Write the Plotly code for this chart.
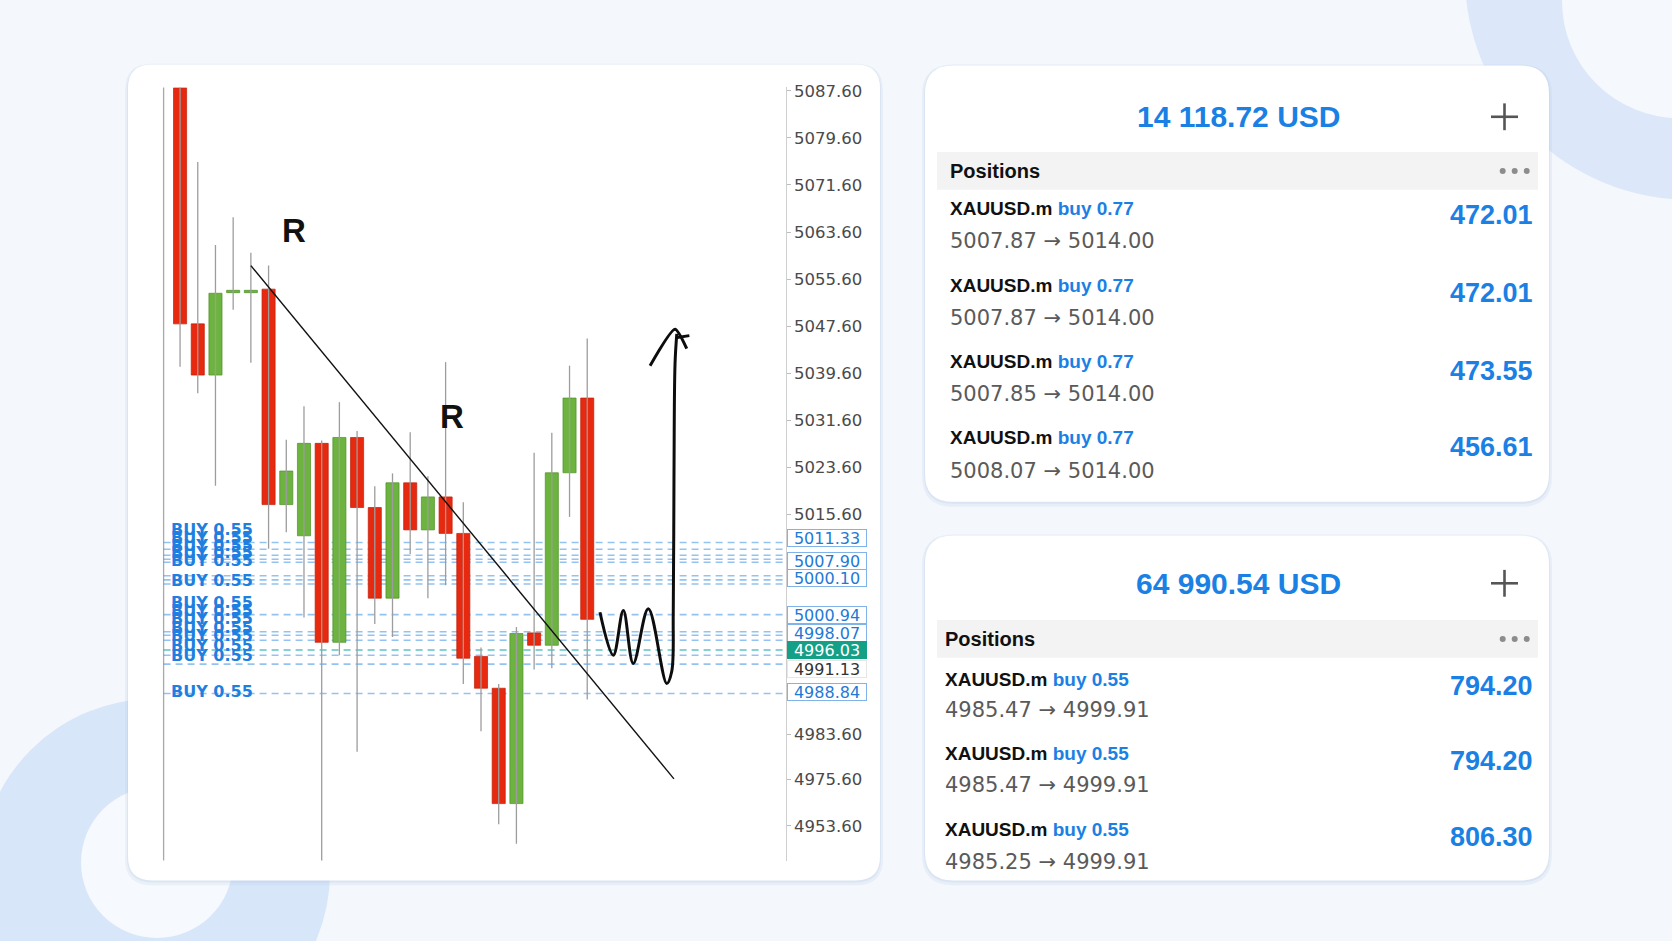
import plotly.graph_objects as go

W, H = 1672, 941

# ---------------- chart data ----------------
candle_idx = list(range(24))
opens  = [5088.1, 5048.0, 5039.3, 5053.3, 5053.3, 5053.9, 5017.3, 5012.0, 5027.7, 4993.9, 5028.7, 5016.8,
          5001.4, 5021.0, 5013.0, 5018.6, 5012.4, 4991.5, 4986.1, 4966.5, 4995.5, 4993.4, 5022.7, 5035.4]
highs  = [5088.2, 5075.5, 5061.4, 5066.1, 5060.1, 5057.9, 5028.3, 5034.0, 5028.2, 5034.7, 5029.8, 5020.4,
          5022.6, 5029.6, 5022.1, 5041.5, 5017.7, 4993.0, 4986.8, 4996.5, 5026.1, 5029.5, 5040.9, 5045.5]
lows   = [5040.7, 5036.2, 5020.5, 5050.4, 5041.4, 5009.8, 5012.6, 4998.1, 4956.5, 4991.7, 4975.3, 4997.0,
          4994.8, 5008.9, 5001.4, 5003.6, 4986.8, 4978.8, 4963.0, 4959.7, 4989.3, 4989.5, 5015.2, 4984.2]
closes = [5048.0, 5039.3, 5053.2, 5053.7, 5053.7, 5017.3, 5023.0, 5027.7, 4993.9, 5028.7, 5016.8, 5001.4,
          5021.0, 5013.0, 5018.6, 5012.4, 4991.2, 4986.1, 4966.5, 4995.4, 4993.4, 5022.7, 5035.4, 4997.8]

tick_pos  = [5087.6, 5079.6, 5071.6, 5063.6, 5055.6, 5047.6, 5039.6, 5031.6, 5023.6, 5015.6,
             4978.3, 4970.6, 4962.7]
tick_text = ["5087.60", "5079.60", "5071.60", "5063.60", "5055.60", "5047.60", "5039.60", "5031.60",
             "5023.60", "5015.60", "4983.60", "4975.60", "4953.60"]

buy_levels = [5010.85, 5009.7, 5008.7, 5008.0, 5007.5, 5005.2, 5004.5, 5003.8,
              4998.6, 4995.7, 4995.1, 4994.25, 4991.7, 4990.2, 4985.2]
buy_label_levels = [5013.1, 5011.7, 5010.3, 5009.15, 5007.75, 5004.4,
                    5000.7, 4999.3, 4997.9, 4996.5, 4995.1, 4993.4, 4991.7, 4985.5]
buy_label = "BUY 0.55"
current_level = 4992.6

tag_prices = [5011.6, 5007.75, 5004.8, 4998.5, 4995.4, 4992.6, 4989.3, 4985.5]
tag_text   = ["5011.33", "5007.90", "5000.10", "5000.94", "4998.07", "4996.03", "4991.13", "4988.84"]
tag_kind   = ["pos", "pos", "pos", "pos", "pos", "current", "plain", "pos"]

trend_x = [4.0, 27.9]
trend_y = [5057.9, 4970.7]

r_x = [6.44, 15.37]
r_y = [5063.85, 5032.3]
r_text = ["R", "R"]

sketch_x = [23.72, 24.47, 25.04, 25.60, 26.45, 27.49, 27.77, 27.86, 27.90, 27.96, 28.06]
sketch_y = [4999.0, 4991.7, 4999.3, 4990.3, 4999.6, 4986.9, 4988.9, 4999.0, 5021.5, 5041.2, 5046.3]
arrow_x = [26.55, 27.96, 28.62, None, 28.09, 28.77]
arrow_y = [5040.9, 5047.1, 5043.8, None, 5045.7, 5046.0]

# ---------------- account panels ----------------
acc1_total = "14 118.72 USD"
acc1_symbol = "XAUUSD.m"
acc1_side = "buy 0.77"
acc1_open = ["5007.87", "5007.87", "5007.85", "5008.07"]
acc1_close = "5014.00"
acc1_profit = ["472.01", "472.01", "473.55", "456.61"]

acc2_total = "64 990.54 USD"
acc2_symbol = "XAUUSD.m"
acc2_side = "buy 0.55"
acc2_open = ["4985.47", "4985.47", "4985.25"]
acc2_close = "4999.91"
acc2_profit = ["794.20", "794.20", "806.30"]

# ---------------- styling ----------------
BG = "#f4f7fc"
BLUE = "#1b80e4"
RED, RED_L = "#e6290f", "#bf1f0a"
GREEN, GREEN_L = "#6db33f", "#4f8f2a"
NARROW = "Liberation Sans, Arial, sans-serif"
REG = "DejaVu Sans, Liberation Sans, sans-serif"


def px(x):
    return x / W


def py(y):
    return 1 - y / H


def rrect(x0, y0, x1, y1, r, color, line=None):
    X0, X1, Yt, Yb = px(x0), px(x1), py(y0), py(y1)
    rx, ry = r / W, r / H
    path = (f"M{X0+rx},{Yt} L{X1-rx},{Yt} Q{X1},{Yt} {X1},{Yt-ry} L{X1},{Yb+ry} "
            f"Q{X1},{Yb} {X1-rx},{Yb} L{X0+rx},{Yb} Q{X0},{Yb} {X0},{Yb+ry} "
            f"L{X0},{Yt-ry} Q{X0},{Yt} {X0+rx},{Yt} Z")
    return dict(type="path", xref="paper", yref="paper", path=path, fillcolor=color,
                line=dict(width=0) if line is None else line, layer="below")


def circle(cx, cy, r, color):
    return dict(type="circle", xref="paper", yref="paper", x0=px(cx - r), x1=px(cx + r),
                y0=py(cy + r), y1=py(cy - r), fillcolor=color, line=dict(width=0), layer="below")


shapes = []
# background decorations
shapes.append(circle(1690, -30, 225, "#dce8f9"))
shapes.append(circle(1680, -5, 118, "#f5f8fd"))
shapes.append(circle(155, 872, 175, "#d8e6fa"))
shapes.append(circle(157, 862, 76, "#f6f9fd"))

cards = [(128, 59, 880, 880, 24), (925, 60, 1549, 499, 28), (925, 533, 1549, 880, 28)]
for (a, b, c, d, r) in cards:
    shapes.append(rrect(a - 3, b - 1, c + 3, d + 5, r + 3, "rgba(170,190,225,0.16)"))
    shapes.append(rrect(a - 1, b, c + 1, d + 2, r + 1, "rgba(170,190,225,0.20)"))
    shapes.append(rrect(a, b, c, d, r, "#ffffff"))

# "Positions" bands
for (y0, y1) in [(147, 185), (618, 656)]:
    shapes.append(dict(type="rect", xref="paper", yref="paper", x0=px(937), x1=px(1538),
                       y0=py(y1), y1=py(y0), fillcolor="#f3f3f3", line=dict(width=0), layer="below"))

# plus signs and dots
for cy in [111.5, 581]:
    shapes.append(dict(type="line", xref="paper", yref="paper", x0=px(1491), x1=px(1518),
                       y0=py(cy), y1=py(cy), line=dict(color="#555555", width=2.6)))
    shapes.append(dict(type="line", xref="paper", yref="paper", x0=px(1504.5), x1=px(1504.5),
                       y0=py(cy - 13.5), y1=py(cy + 13.5), line=dict(color="#555555", width=2.6)))
for cy in [166, 637]:
    for cx in [1502.7, 1514.7, 1526.7]:
        shapes.append(dict(type="circle", xref="paper", yref="paper", x0=px(cx - 3), x1=px(cx + 3),
                           y0=py(cy + 3), y1=py(cy - 3), fillcolor="#8c8c8c", line=dict(width=0)))

# chart frame line (left)
shapes.append(dict(type="line", xref="x domain", yref="y domain", x0=0, x1=0, y0=0, y1=1,
                   line=dict(color="#a9a9a9", width=1.3), layer="below"))

# BUY dashed levels
for lv in buy_levels:
    shapes.append(dict(type="line", xref="x domain", yref="y", x0=0, x1=1, y0=lv, y1=lv,
                       line=dict(color="rgba(60,145,230,0.55)", width=1.6, dash="7px,5px"), layer="below"))
shapes.append(dict(type="line", xref="x domain", yref="y", x0=0, x1=1, y0=current_level, y1=current_level,
                   line=dict(color="rgba(40,175,170,0.75)", width=1.6, dash="7px,5px"), layer="below"))

fig = go.Figure()

# wicks
wx, wy = [], []
for i, hi, lo in zip(candle_idx, highs, lows):
    wx += [i, i, None]
    wy += [lo, hi, None]
fig.add_trace(go.Scatter(x=wx, y=wy, mode="lines", line=dict(color="#9d9d9d", width=1.3),
                         hoverinfo="skip", showlegend=False))

# bodies
base = [min(o, c) for o, c in zip(opens, closes)]
height = [max(abs(c - o), 0.4) for o, c in zip(opens, closes)]
fill = [GREEN if c >= o else RED for o, c in zip(opens, closes)]
edge = [GREEN_L if c >= o else RED_L for o, c in zip(opens, closes)]
fig.add_trace(go.Bar(x=candle_idx, y=height, base=base, width=0.74,
                     marker=dict(color=fill, line=dict(color=edge, width=0.7)),
                     showlegend=False, hoverinfo="skip"))

# trend line
fig.add_trace(go.Scatter(x=trend_x, y=trend_y, mode="lines", line=dict(color="#111111", width=1.4),
                         showlegend=False, hoverinfo="skip"))
# hand sketch
fig.add_trace(go.Scatter(x=sketch_x, y=sketch_y, mode="lines",
                         line=dict(color="#0d0d0d", width=3, shape="spline", smoothing=1.0),
                         showlegend=False, hoverinfo="skip"))
fig.add_trace(go.Scatter(x=arrow_x, y=arrow_y, mode="lines",
                         line=dict(color="#0d0d0d", width=3, shape="spline", smoothing=0.6),
                         showlegend=False, hoverinfo="skip"))

annotations = []
for x, y, t in zip(r_x, r_y, r_text):
    annotations.append(dict(x=x, y=y, xref="x", yref="y", text=f"<b>{t}</b>", showarrow=False,
                            font=dict(family="Liberation Sans, Arial, sans-serif", size=33, color="#111111")))
for lv in buy_label_levels:
    annotations.append(dict(x=px(169), y=lv, xref="paper", yref="y", xanchor="left", yanchor="middle",
                            text=f"<b>{buy_label}</b>", showarrow=False,
                            font=dict(family=REG, size=16, color="#1f7fe0")))
for pr, t, k in zip(tag_prices, tag_text, tag_kind):
    if k == "current":
        bg, fc, bc = "#14a087", "#ffffff", "#14a087"
    elif k == "plain":
        bg, fc, bc = "#ffffff", "#333333", "#e6e6e6"
    else:
        bg, fc, bc = "#ffffff", "#1f7ad6", "#7fb3ea"
    annotations.append(dict(x=px(787), y=pr, xref="paper", yref="y", xanchor="left", yanchor="middle",
                            text=t, showarrow=False, width=76, height=14, borderpad=1, borderwidth=1,
                            bordercolor=bc, bgcolor=bg, align="center",
                            font=dict(family=REG, size=16, color=fc)))


def panel(total, ty, pos_y, pos_x, symbol, side, opens_, close_, profits, name_y, price_y, val_y, left_x):
    out = [dict(x=px(1238), y=py(ty), xref="paper", yref="paper", text=f"<b>{total}</b>", showarrow=False,
                xanchor="center", yanchor="middle", font=dict(family=NARROW, size=30, color=BLUE)),
           dict(x=px(pos_x), y=py(pos_y), xref="paper", yref="paper", text="<b>Positions</b>", showarrow=False,
                xanchor="left", yanchor="middle", font=dict(family=NARROW, size=20, color="#111111"))]
    for o, p, ny, pyy, vy in zip(opens_, profits, name_y, price_y, val_y):
        out.append(dict(x=px(left_x), y=py(ny), xref="paper", yref="paper", showarrow=False,
                        xanchor="left", yanchor="middle",
                        text=f"<b>{symbol}</b> <span style='color:{BLUE}'><b>{side}</b></span>",
                        font=dict(family=NARROW, size=19, color="#111111")))
        out.append(dict(x=px(left_x), y=py(pyy), xref="paper", yref="paper", showarrow=False,
                        xanchor="left", yanchor="middle", text=f"{o} → {close_}",
                        font=dict(family=REG, size=21, color="#5a5a5a")))
        out.append(dict(x=px(1535), y=py(vy), xref="paper", yref="paper", showarrow=False,
                        xanchor="right", yanchor="middle", text=f"<b>{p}</b>",
                        font=dict(family="Liberation Sans, Arial, sans-serif", size=27, color=BLUE)))
    return out


annotations += panel(acc1_total, 111.5, 166, 947.5, acc1_symbol, acc1_side, acc1_open, acc1_close, acc1_profit,
                     [204, 281, 357.5, 434], [236.7, 314, 390.8, 467.5], [210.7, 289, 367.5, 444], 947.5)
annotations += panel(acc2_total, 581, 637.5, 943, acc2_symbol, acc2_side, acc2_open, acc2_close, acc2_profit,
                     [677.5, 752.5, 829], [709, 784, 861], [684, 760, 836.7], 943)

fig.update_layout(
    width=W, height=H, margin=dict(l=0, r=0, t=0, b=0),
    paper_bgcolor=BG, plot_bgcolor="rgba(0,0,0,0)",
    showlegend=False, bargap=0, barmode="overlay",
    xaxis=dict(domain=[px(163.6), px(785.5)], range=[-0.93, 34.2], visible=False, fixedrange=True),
    yaxis=dict(domain=[py(860), py(82)], range=[4956.83, 5088.16], side="right", showgrid=False,
               zeroline=False, showline=True, linecolor="#cfcfcf", linewidth=1.2,
               ticks="outside", ticklen=4, tickcolor="#bdbdbd", tickvals=tick_pos, ticktext=tick_text,
               tickfont=dict(family=REG, size=16.5, color="#4a4a4a"), fixedrange=True),
    shapes=shapes, annotations=annotations,
)

fig.write_html("out.html", config={"displayModeBar": False, "staticPlot": True},
               post_script="document.body.style.margin='0px';document.body.style.padding='0px';"
                           "document.body.style.background='" + BG + "';")
